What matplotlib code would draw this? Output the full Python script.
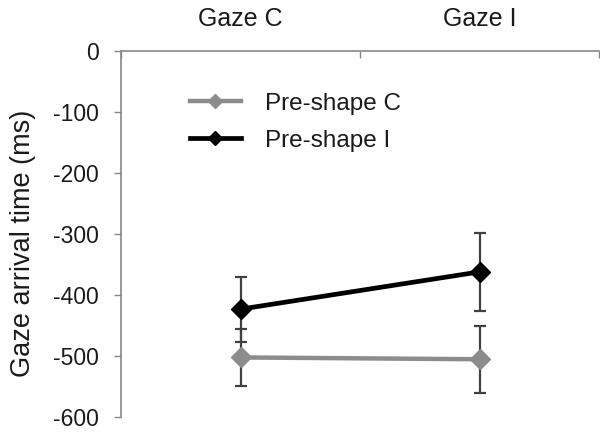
import matplotlib
matplotlib.use("Agg")
import matplotlib.pyplot as plt
import numpy as np

categories = ["Gaze C", "Gaze I"]
series_names = ["Pre-shape C", "Pre-shape I"]
preshape_c = [-502, -505]
preshape_c_err = [46, 55]
preshape_i = [-423, -362]
preshape_i_err = [53, 64]
yticks = [0, -100, -200, -300, -400, -500, -600]

plt.rcParams['font.family'] = ['Liberation Sans', 'DejaVu Sans']

fig = plt.figure(figsize=(6, 4.38), dpi=100)
ax = fig.add_axes([121/600, 1-417.3/438, 478/600, (417.3-50.7)/438])

x = np.arange(len(categories))
ecol = '#404040'
ax.errorbar(x, preshape_c, yerr=preshape_c_err, fmt='none', ecolor=ecol,
            elinewidth=1.6, capsize=4, capthick=1.6, zorder=2)
ax.errorbar(x, preshape_i, yerr=preshape_i_err, fmt='none', ecolor=ecol,
            elinewidth=1.6, capsize=4, capthick=1.6, zorder=2)
ax.plot(x, preshape_c, color='#8c8c8c', lw=3.2, marker='D', ms=10,
        label=series_names[0], zorder=3)
ax.plot(x, preshape_i, color='black', lw=3.4, marker='D', ms=10,
        label=series_names[1], zorder=4)

ax.set_xlim(-0.5, len(categories) - 0.5)
ax.set_ylim(-600, 0)
ax.set_yticks(yticks)
ax.set_yticklabels([str(v) for v in yticks])

ax.xaxis.tick_top()
ax.set_xticks(np.arange(len(categories) + 1) - 0.5)
ax.set_xticklabels([])
ax.set_xticks(x, minor=True)
ax.set_xticklabels(categories, minor=True)
ax.tick_params(axis='x', which='major', direction='in', length=5, width=1,
               color='#888888', top=True, bottom=False)
ax.tick_params(axis='x', which='minor', length=0, pad=14, labelsize=18,
               labelcolor='#1a1a1a', top=True, bottom=False)
ax.tick_params(axis='y', direction='out', length=5, width=1, color='#888888',
               pad=11, labelsize=16.5, labelcolor='#1a1a1a')

for s in ['bottom', 'right']:
    ax.spines[s].set_visible(False)
for s in ['top', 'left']:
    ax.spines[s].set_color('#888888')
    ax.spines[s].set_linewidth(1.2)

ax.set_ylabel("Gaze arrival time (ms)", fontsize=19.5, color='#1a1a1a')
ax.yaxis.set_label_coords(-0.178, 0.475)

leg = ax.legend(loc='upper left', bbox_to_anchor=(0.144, 0.885),
                bbox_transform=ax.transAxes, frameon=False, fontsize=17.5,
                handlelength=2.1, handletextpad=1.0, borderpad=0,
                borderaxespad=0, labelspacing=0.62, markerscale=0.75)
for t in leg.get_texts():
    t.set_color('#1a1a1a')

fig.savefig("out.png", dpi=100)
